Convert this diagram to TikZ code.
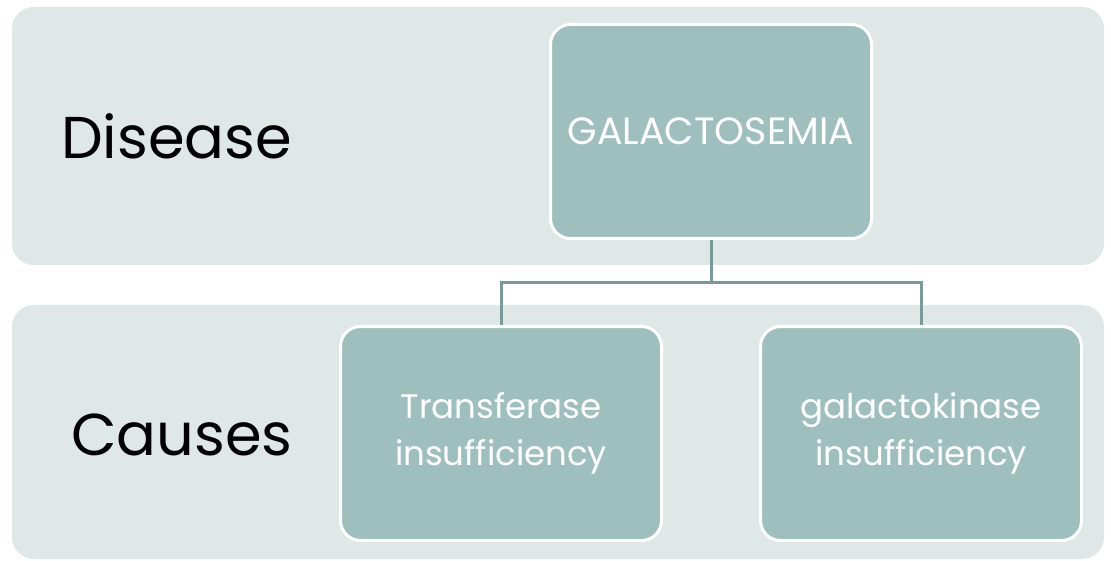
\documentclass[tikz,border=0pt]{standalone}
\usepackage{fontspec}
\setmainfont{Poppins}
\definecolor{band}{HTML}{DFE7E7}
\definecolor{boxfill}{HTML}{9FBFBF}
\definecolor{conn}{HTML}{7A9A99}
\tikzset{
  bandbox/.style={fill=band, draw=none, rounded corners=22pt},
  itembox/.style={fill=boxfill, draw=white, line width=3pt, rounded corners=20pt, minimum width=321pt, minimum height=214pt, inner sep=0pt, text=white, align=center, font=\fontsize{34}{47}\selectfont},
  rowlabel/.style={anchor=west, inner sep=0pt, text=black, font=\fontsize{59}{70}\selectfont},
  connector/.style={draw=conn, line width=3pt}
}
\begin{document}
\begin{tikzpicture}[x=1pt,y=-1pt]
\useasboundingbox (0,0) rectangle (1111,561);
\fill[white] (0,0) rectangle (1111,561);
\path[bandbox] (12,7) rectangle (1104,265);
\path[bandbox] (12,305) rectangle (1104,559);
\node[rowlabel] (disease) at (61,136) {Disease};
\node[rowlabel] (causes) at (71,435) {Causes};
\node[itembox, font=\fontsize{38}{46}\selectfont] (gal) at (711,131.5) {GALACTOSEMIA};
\node[itembox] (trans) at (501,433.5) {Transferase\\insufficiency};
\node[itembox] (kin) at (921,433.5) {galactokinase\\insufficiency};
\coordinate (mid) at (711,283);
\draw[connector] (gal.south) -- (mid) -| (trans.north);
\draw[connector] (mid) -| (kin.north);
\end{tikzpicture}
\end{document}
